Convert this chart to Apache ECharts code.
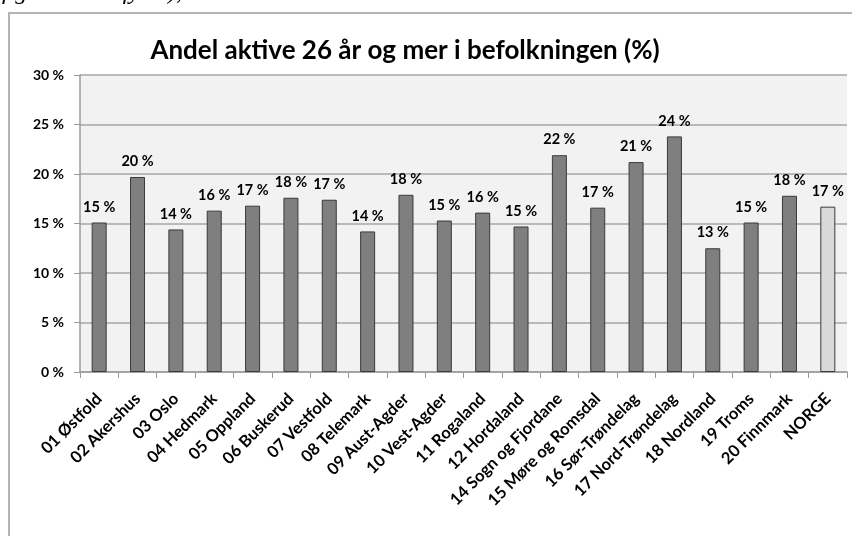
<!DOCTYPE html>
<html>
<head>
<meta charset="utf-8">
<script src="https://cdn.jsdelivr.net/npm/echarts@6/dist/echarts.min.js"></script>
<style>
    html, body { margin: 0; padding: 0; background: #fff; }
    #container { width: 852px; height: 536px; }
</style>
</head>
<body>
<div id="container"></div>
<script>
var fylker = ['01 Østfold', '02 Akershus', '03 Oslo', '04 Hedmark', '05 Oppland', '06 Buskerud',
    '07 Vestfold', '08 Telemark', '09 Aust-Agder', '10 Vest-Agder', '11 Rogaland', '12 Hordaland',
    '14 Sogn og Fjordane', '15 Møre og Romsdal', '16 Sør-Trøndelag', '17 Nord-Trøndelag',
    '18 Nordland', '19 Troms', '20 Finnmark', 'NORGE'];
var andel = [15.1, 19.7, 14.4, 16.3, 16.8, 17.6, 17.4, 14.2, 17.9, 15.3, 16.1, 14.7,
    21.9, 16.6, 21.2, 23.8, 12.5, 15.1, 17.8, 16.7];
var yTicks = [0, 5, 10, 15, 20, 25, 30];

(function() {
    var dom = document.getElementById("container");
    var myChart = echarts.init(dom);
    var font = 'Lato, "Open Sans", sans-serif';

    var data = andel.map(function(v, i) {
        var isNorge = fylker[i] === 'NORGE';
        return {
            value: v,
            itemStyle: { color: isNorge ? '#d9d9d9' : '#7f7f7f' }
        };
    });

    myChart.setOption({
        animation: false,
        backgroundColor: '#fff',
        title: {
            text: 'Andel aktive 26 år og mer i befolkningen (%)',
            left: 400,
            textAlign: 'center',
            top: 33,
            textStyle: { fontFamily: font, fontSize: 26, fontWeight: 'bold', color: '#000' }
        },
        graphic: [{
            type: 'rect',
            shape: { x: 9, y: 13, width: 900, height: 600 },
            style: { fill: 'none', stroke: '#b4b4b4', lineWidth: 2 },
            z: -1
        }, {
            type: 'text',
            left: 2,
            top: -19,
            style: { text: 'figur 4 etter fylke),', font: 'italic 24px "Liberation Serif", serif', fill: '#000' }
        }],
        grid: {
            left: 80,
            right: 5,
            top: 75,
            bottom: 164
        },
        xAxis: {
            type: 'category',
            data: fylker,
            axisLine: { lineStyle: { color: '#9a9a9a', width: 1.5 } },
            axisTick: { show: true, length: 6, lineStyle: { color: '#9a9a9a' } },
            axisLabel: {
                rotate: 45,
                interval: 0,
                margin: 24,
                color: '#000',
                fontFamily: font,
                fontWeight: 'bold',
                fontSize: 16.5
            }
        },
        yAxis: {
            type: 'value',
            min: yTicks[0],
            max: yTicks[yTicks.length - 1],
            interval: 5,
            axisLine: { show: true, lineStyle: { color: '#9a9a9a', width: 1.5 } },
            axisTick: { show: true, length: 6, inside: false, lineStyle: { color: '#9a9a9a' } },
            axisLabel: {
                color: '#000',
                fontFamily: font,
                fontWeight: 'bold',
                fontSize: 14,
                margin: 16,
                formatter: function(v) { return v + ' %'; }
            },
            splitLine: { show: true, lineStyle: { color: '#a6a6a6', width: 1.5 } },
            splitArea: { show: true, areaStyle: { color: ['#f2f2f2', '#f2f2f2'] } }
        },
        series: [{
            type: 'bar',
            data: data,
            barWidth: 15,
            itemStyle: { borderColor: '#3a3a3a', borderWidth: 1 },
            label: {
                show: true,
                position: 'top',
                distance: 8,
                color: '#000',
                fontFamily: font,
                fontWeight: 'bold',
                fontSize: 14.5,
                formatter: function(p) { return Math.round(p.value) + ' %'; }
            }
        }]
    });
}).call(this);
</script>
</body>
</html>
